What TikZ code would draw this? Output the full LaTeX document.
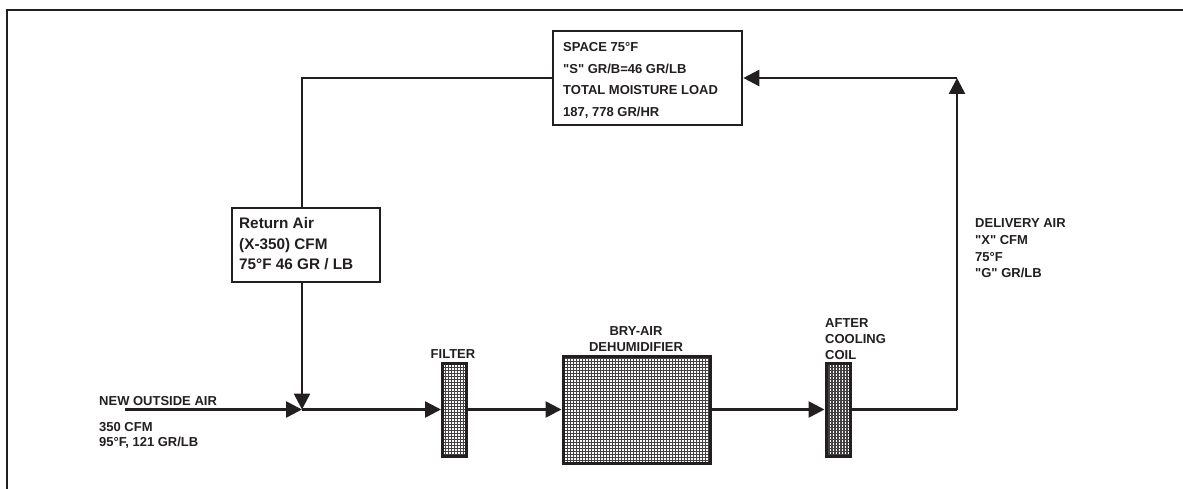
\documentclass[tikz,border=0pt]{standalone}
\usepackage{fontspec}
\setmainfont{Liberation Sans}
\newfontfamily\qfont{Liberation Sans}
\usetikzlibrary{arrows.meta}
\definecolor{ink}{HTML}{231F20}
\newcommand\dq{{\qfont\char34}}
\tikzset{
  line/.style={draw=ink, line width=2.6pt},
  arr/.style={line, -{Triangle[length=16pt,width=16pt]}},
  box/.style={draw=ink, line width=2.6pt, fill=white, inner sep=0pt, rectangle},
  meshbox/.style={box, line width=3pt, path picture={\draw[ink!85, line width=1.1pt] (path picture bounding box.south west) grid[step=3pt] (path picture bounding box.north east);}},
  lbl/.style={inner sep=0pt, font=\fontsize{13}{16}\selectfont\bfseries, text=ink},
  biglbl/.style={inner sep=0pt, font=\fontsize{15.3}{18}\selectfont\bfseries, text=ink},
}
\begin{document}
\begin{tikzpicture}[x=1pt,y=-1pt]
\useasboundingbox (0,0) rectangle (1183,489);
% frame
\draw[draw=ink, line width=2.8pt] (7,489) -- (7,10) -- (1183,10);
% boxes
\node[box, minimum width=189pt, minimum height=94pt] (space) at (647.5,78) {};
\node[box, minimum width=148pt, minimum height=74pt] (ret) at (306,245) {};
\node[meshbox, minimum width=24pt, minimum height=93pt] (filter) at (454.5,409.5) {};
\node[meshbox, minimum width=147pt, minimum height=107pt] (dehum) at (636.5,409.5) {};
\node[meshbox, minimum width=24pt, minimum height=93pt] (coil) at (838,409.5) {};
% texts
\node[lbl, anchor=base west] (s1) at (563,52) {SPACE 75°F};
\node[lbl, anchor=base west] (s2) at (563,73.5) {\dq S\dq{} GR/B=46 GR/LB};
\node[lbl, anchor=base west] (s3) at (563,95) {TOTAL MOISTURE LOAD};
\node[lbl, anchor=base west] (s4) at (563,116.5) {187, 778 GR/HR};
\node[biglbl, anchor=base west] (r1) at (239,229) {Return Air};
\node[biglbl, anchor=base west] (r2) at (239,249) {(X-350) CFM};
\node[biglbl, anchor=base west] (r3) at (239,269) {75°F 46 GR / LB};
\node[lbl, anchor=base west] (n1) at (99,405) {NEW OUTSIDE AIR};
\node[lbl, anchor=base west] (n2) at (99,431.5) {350 CFM};
\node[lbl, anchor=base west] (n3) at (99,446) {95°F, 121 GR/LB};
\node[lbl, anchor=base] (fl) at (453,358) {FILTER};
\node[lbl, anchor=base] (b1) at (636,335) {BRY-AIR};
\node[lbl, anchor=base] (b2) at (636,351) {DEHUMIDIFIER};
\node[lbl, anchor=base west] (a1) at (825,327) {AFTER};
\node[lbl, anchor=base west] (a2) at (825,343) {COOLING};
\node[lbl, anchor=base west] (a3) at (825,359) {COIL};
\node[lbl, anchor=base west] (d1) at (975,228) {DELIVERY AIR};
\node[lbl, anchor=base west] (d2) at (975,244.5) {\dq X\dq{} CFM};
\node[lbl, anchor=base west] (d3) at (975,261) {75°F};
\node[lbl, anchor=base west] (d4) at (975,277) {\dq G\dq{} GR/LB};
% connectors
\coordinate (j) at (302,409.5);
\coordinate (c1) at (302,78);
\coordinate (oa) at (125,409.5);
\coordinate (c2) at (957,409.5);
\coordinate (c3) at (957,78);
\draw[line] (space.west) -- (c1) -- (c1 |- ret.north);
\draw[arr] (j |- ret.south) -- (j);
\draw[arr] (oa) -- (j);
\draw[arr] (j) -- (filter.west);
\draw[arr] (filter.east) -- (dehum.west);
\draw[arr] (dehum.east) -- (coil.west);
\draw[line] (coil.east) -- (c2);
\draw[arr] (c2) -- (c3);
\draw[arr] (c3) -- (space.east);
\end{tikzpicture}
\end{document}
